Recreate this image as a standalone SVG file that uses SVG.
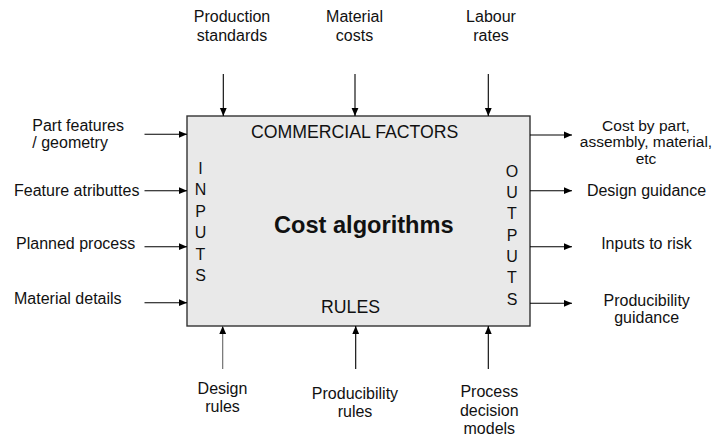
<svg xmlns="http://www.w3.org/2000/svg" width="716" height="438" viewBox="0 0 716 438">
<style>
text{font-family:"Liberation Sans",Arial,sans-serif;fill:#111}
.l{font-size:16px}
.s{font-size:15.5px}
.c{text-anchor:middle}
.big{font-size:17.7px;text-anchor:middle}
.title{font-size:23.6px;font-weight:bold;text-anchor:middle}
.conn line{stroke:#000;stroke-width:1.1;marker-end:url(#ah)}
</style>
<defs>
<marker id="ah" markerUnits="userSpaceOnUse" markerWidth="8" markerHeight="8" viewBox="0 0 8 8" refX="8" refY="4" orient="auto">
<path d="M0,0.6 L8,4 L0,7.4 Z" fill="#000"/>
</marker>
</defs>
<g id="box">
<rect x="187" y="116" width="343" height="210" fill="#e9e9e9" stroke="#333" stroke-width="1.4"/>
<text class="big" x="354.7" y="137.7">COMMERCIAL FACTORS</text>
<text class="big" x="350.5" y="312.7">RULES</text>
<text class="title" x="363.8" y="233.3">Cost algorithms</text>
<text class="l c" x="200.5"><tspan x="200.5" y="173.5">I</tspan><tspan x="200.5" y="195">N</tspan><tspan x="200.5" y="216.5">P</tspan><tspan x="200.5" y="238">U</tspan><tspan x="200.5" y="259.5">T</tspan><tspan x="200.5" y="281">S</tspan></text>
<text class="l c" x="512"><tspan x="512" y="176.7">O</tspan><tspan x="512" y="198">U</tspan><tspan x="512" y="219.3">T</tspan><tspan x="512" y="240.6">P</tspan><tspan x="512" y="261.9">U</tspan><tspan x="512" y="283.2">T</tspan><tspan x="512" y="304.5">S</tspan></text>
</g>
<g id="top-labels">
<g id="production-standards"><text class="l c"><tspan x="232" y="22">Production</tspan><tspan x="232" y="40.7">standards</tspan></text></g>
<g id="material-costs"><text class="l c"><tspan x="354.5" y="22">Material</tspan><tspan x="354.5" y="40.7">costs</tspan></text></g>
<g id="labour-rates"><text class="l c"><tspan x="491" y="22">Labour</tspan><tspan x="491" y="40.7">rates</tspan></text></g>
</g>
<g id="left-labels">
<g id="part-features"><text class="l"><tspan x="32.3" y="130.5">Part features</tspan><tspan x="32.3" y="147.5">/ geometry</tspan></text></g>
<g id="feature-attributes"><text class="l" x="14" y="196">Feature atributtes</text></g>
<g id="planned-process"><text class="l" x="16" y="249">Planned process</text></g>
<g id="material-details"><text class="l" x="14" y="304">Material details</text></g>
</g>
<g id="right-labels">
<g id="cost-by-part"><text class="s c"><tspan x="646" y="130.5">Cost by part,</tspan><tspan x="646" y="147">assembly, material,</tspan><tspan x="646" y="163.5">etc</tspan></text></g>
<g id="design-guidance"><text class="l c" x="646.5" y="196">Design guidance</text></g>
<g id="inputs-to-risk"><text class="l c" x="646.5" y="249">Inputs to risk</text></g>
<g id="producibility-guidance"><text class="l c"><tspan x="646.7" y="305.5">Producibility</tspan><tspan x="646.7" y="323">guidance</tspan></text></g>
</g>
<g id="bottom-labels">
<g id="design-rules"><text class="l c"><tspan x="222.5" y="394.3">Design</tspan><tspan x="222.5" y="412.3">rules</tspan></text></g>
<g id="producibility-rules"><text class="l c"><tspan x="355" y="399">Producibility</tspan><tspan x="355" y="416.7">rules</tspan></text></g>
<g id="process-decision-models"><text class="l c"><tspan x="489.3" y="396.7">Process</tspan><tspan x="489.3" y="415.5">decision</tspan><tspan x="489.3" y="434.2">models</tspan></text></g>
</g>
<g id="connectors" class="conn">
<line x1="223.3" y1="74" x2="223.3" y2="116"/>
<line x1="355" y1="74" x2="355" y2="116"/>
<line x1="488.3" y1="74" x2="488.3" y2="116"/>
<line x1="144.5" y1="134.3" x2="187" y2="134.3"/>
<line x1="144.5" y1="190.7" x2="187" y2="190.7"/>
<line x1="144.5" y1="246.7" x2="187" y2="246.7"/>
<line x1="144.5" y1="302.7" x2="187" y2="302.7"/>
<line x1="530" y1="135" x2="572" y2="135"/>
<line x1="530" y1="190.7" x2="572" y2="190.7"/>
<line x1="530" y1="246.7" x2="572" y2="246.7"/>
<line x1="530" y1="303.3" x2="572" y2="303.3"/>
<line x1="222.7" y1="369" x2="222.7" y2="326" style="stroke:#666"/>
<line x1="355.7" y1="369" x2="355.7" y2="326"/>
<line x1="488.3" y1="369" x2="488.3" y2="326"/>
</g>
</svg>
